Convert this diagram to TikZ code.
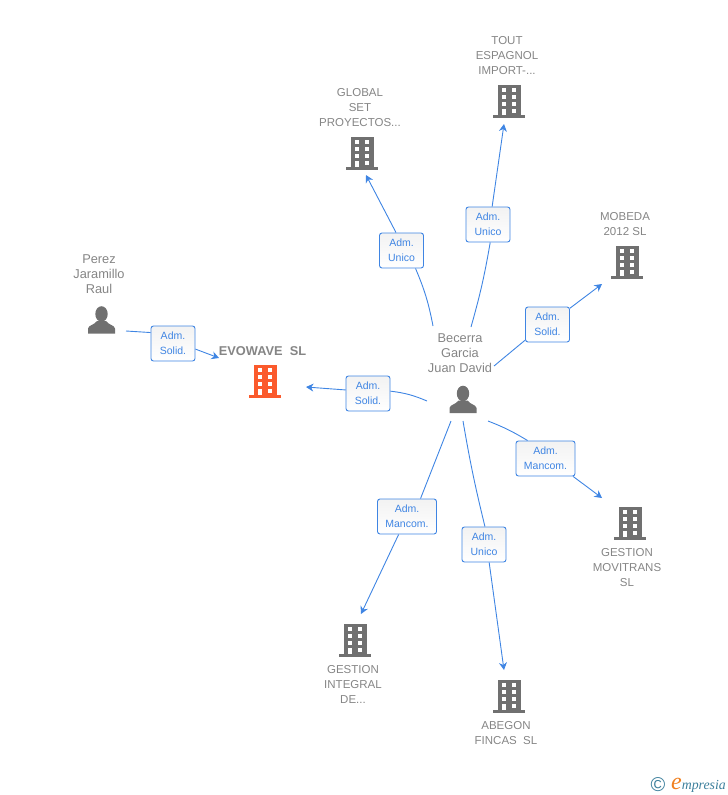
\documentclass[tikz,border=0pt]{standalone}
\usepackage{fontspec}
\setmainfont{Liberation Sans}
\newfontfamily\logofont{Liberation Serif}
\usepackage{xcolor}
\usepackage{tikz}
\usetikzlibrary{positioning,arrows.meta}
\definecolor{linkblue}{HTML}{3F85E3}
\definecolor{namegrey}{HTML}{858585}
\definecolor{icongrey}{HTML}{707070}
\definecolor{iconorange}{HTML}{FB5A2C}
\definecolor{logoteal}{HTML}{3C7F9C}
\definecolor{logoorange}{HTML}{F08020}

\tikzset{
    building/.style={inner sep=0pt, minimum width=33pt, minimum height=36pt, path picture={
        \begin{scope}[shift={(path picture bounding box.center)}]
        \fill[#1] (-11,-16) rectangle (12,14);
        \fill[#1] (-16,14) rectangle (16,17);
        \foreach \wy in {-13,-6,1}
            \foreach \wx in {-7,3}
                \fill[white] (\wx,\wy) rectangle ++(4.4,3.6);
        \fill[white] (-7,8) rectangle (-2.6,14);
        \fill[white] (3,8) rectangle (7.4,11.7);
        \end{scope}}},
    person/.style={inner sep=0pt, minimum width=28pt, minimum height=28pt, path picture={
        \begin{scope}[shift={(path picture bounding box.center)}]
        \fill[icongrey] (0,-6) ellipse (6.2 and 7.8);
        \fill[icongrey] (-13.5,13.5) -- (-13.5,8.5) .. controls (-13,5) and (-7,5) .. (-4.5,1)
            -- (4.5,1) .. controls (7,5) and (13,5) .. (13.5,8.5) -- (13.5,13.5) -- cycle;
        \end{scope}}},
    namelabel/.style={inner sep=0pt, align=center, text=namegrey, font=\fontsize{11.5}{15}\selectfont},
    personlabel/.style={namelabel, font=\fontsize{12.8}{15}\selectfont},
    linklabel/.style={draw=linkblue, line width=0.9pt, rounded corners=2.5pt, top color=black!5, bottom color=white,
        text=linkblue, align=center, inner sep=0pt, minimum height=35pt, font=\fontsize{10.5}{15}\selectfont},
    link/.style={draw=linkblue, line width=0.9pt},
    linkarrow/.style={link, -{Stealth[length=7.5pt,width=8pt]}}
}

\begin{document}
\begin{tikzpicture}[x=1pt, y=-1pt]
\useasboundingbox (0,0) rectangle (728,795);

% Persons
\node[person] (becerra) at (463,399.5) {};
\node[person] (perez) at (101.5,320) {};
\node[personlabel, above=12pt of becerra, xshift=-3pt] (becerratxt) {Becerra\\Garcia\\Juan David};
\node[personlabel, above=12pt of perez, xshift=-2.5pt] (pereztxt) {Perez\\Jaramillo\\Raul};

% Companies
\node[building=iconorange] (evowave) at (265,381) {};
\node[building=icongrey] (tout) at (509,101) {};
\node[building=icongrey] (global) at (362,153) {};
\node[building=icongrey] (mobeda) at (627,262) {};
\node[building=icongrey] (movitrans) at (630,523) {};
\node[building=icongrey] (integral) at (355,640) {};
\node[building=icongrey] (abegon) at (509,696) {};

\node[namelabel, font=\fontsize{12.8}{15}\selectfont\bfseries, above=7pt of evowave, xshift=-2.5pt] (evowavetxt) {EVOWAVE\ \ SL};
\node[namelabel, above=8pt of tout, xshift=-2pt] (touttxt) {TOUT\\ESPAGNOL\\IMPORT-...};
\node[namelabel, above=8pt of global, xshift=-2pt] (globaltxt) {GLOBAL\\SET\\PROYECTOS...};
\node[namelabel, above=8pt of mobeda, xshift=-2pt] (mobedatxt) {MOBEDA\\2012 SL};
\node[namelabel, below=7.5pt of movitrans, xshift=-3pt] (movitranstxt) {GESTION\\MOVITRANS\\SL};
\node[namelabel, below=7pt of integral, xshift=-2pt] (integraltxt) {GESTION\\INTEGRAL\\DE...};
\node[namelabel, below=7pt of abegon, xshift=-3pt] (abegontxt) {ABEGON\\FINCAS\ \ SL};

% Link labels
\node[linklabel, minimum width=44pt] (lperez) at (173,343.5) {Adm.\\Solid.};
\node[linklabel, minimum width=44pt] (levowave) at (368,393.5) {Adm.\\Solid.};
\node[linklabel, minimum width=44pt] (lglobal) at (401.5,250.5) {Adm.\\Unico};
\node[linklabel, minimum width=44pt] (ltout) at (488,224.5) {Adm.\\Unico};
\node[linklabel, minimum width=44pt] (lmobeda) at (547.5,324.5) {Adm.\\Solid.};
\node[linklabel, minimum width=59pt] (lmovitrans) at (545.5,458.5) {Adm.\\Mancom.};
\node[linklabel, minimum width=44pt] (labegon) at (484,544.5) {Adm.\\Unico};
\node[linklabel, minimum width=59pt] (lintegral) at (407,516.5) {Adm.\\Mancom.};

% Free ends
\coordinate (s1) at (126,331);
\coordinate (t1) at (219,358);
\coordinate (s2) at (427,401);
\coordinate (t2) at (306,387);
\coordinate (s3) at (433,326);
\coordinate (t3) at (366,175);
\coordinate (s4) at (471,327);
\coordinate (t4) at (504,124);
\coordinate (s5) at (494,366);
\coordinate (t5) at (602,284);
\coordinate (s6) at (488,421);
\coordinate (t6) at (602,498);
\coordinate (s7) at (463,421);
\coordinate (t7) at (504,670);
\coordinate (s8) at (451,421);
\coordinate (t8) at (361,614);

% Connections
\draw[link] (s1) -- (lperez.154);
\draw[linkarrow] (lperez.-14) -- (t1);
\draw[link] (s2) to[bend right=8] (levowave.6);
\draw[linkarrow] (levowave.171) -- (t2);
\draw[link] (s3) to[bend right=6] (lglobal.-52);
\draw[linkarrow] (lglobal.107) -- (t3);
\draw[link] (s4) to[bend right=3] (ltout.-83);
\draw[linkarrow] (ltout.77) -- (t4);
\draw[link] (s5) -- (lmobeda.-145);
\draw[linkarrow] (lmobeda.36) -- (t5);
\draw[link] (s6) to[bend left=5] (lmovitrans.135);
\draw[linkarrow] (lmovitrans.-33) -- (t6);
\draw[link] (s7) to[bend right=2] (labegon.87);
\draw[linkarrow] (labegon.-74) -- (t7);
\draw[link] (s8) -- (lintegral.53);
\draw[linkarrow] (lintegral.-115) -- (t8);

% Logo
\node[inner sep=0pt, text=logoteal, font=\fontsize{20}{20}\selectfont] (copyr) at (658,784.5) {©};
\node[inner sep=0pt, anchor=base west, text=logoteal, font=\fontsize{13.8}{15}\logofont\itshape] (logo) at (671,789) {{\color{logoorange}\fontsize{24}{15}\selectfont e}mpresia};
\end{tikzpicture}
\end{document}
